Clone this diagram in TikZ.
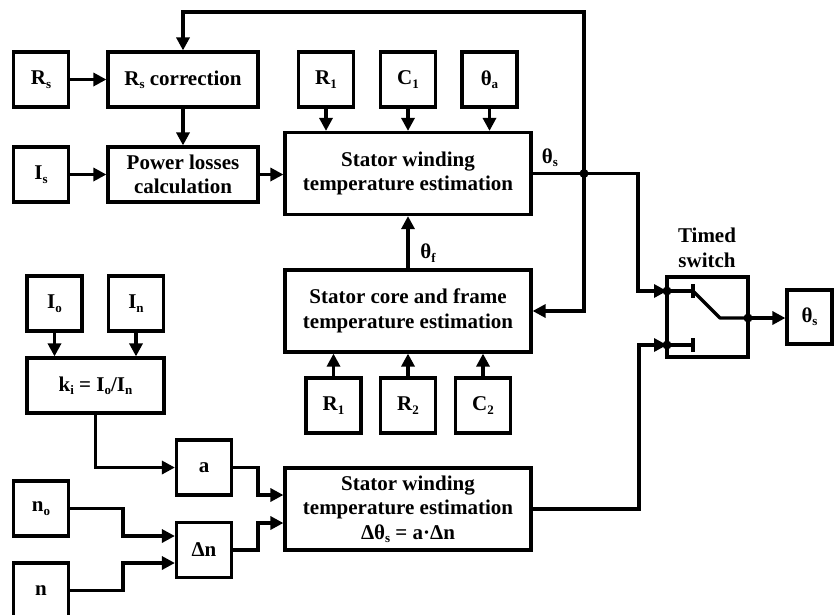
\documentclass[tikz,border=0pt]{standalone}
\usepackage{fontspec}
\setmainfont{Liberation Serif}
\usetikzlibrary{arrows.meta,calc}
\newcommand\sbs[1]{\raisebox{-0.35ex}{\fontsize{13}{13}\selectfont #1}}
\begin{document}
\begin{tikzpicture}[x=1pt,y=-1pt,
  box/.style={draw, line width=3.2pt, align=center, inner sep=0pt,
    font=\fontsize{21}{24.5}\selectfont\bfseries},
  sq/.style={box, minimum width=55pt, minimum height=55pt},
  big/.style={box, minimum width=246pt, minimum height=82pt},
  lab/.style={inner sep=0pt, font=\fontsize{21}{24.5}\selectfont\bfseries, align=center},
  arr/.style={line width=3.2pt, -{Triangle[length=13pt,width=13pt]}},
  ln/.style={line width=3.2pt}]
\useasboundingbox (0,0) rectangle (834,614);
% top-left
\node[sq] (Rs) at (41,79.5) {R\sbs{s}};
\node[box, minimum width=150pt, minimum height=55pt] (Rc) at (183,79.5) {R\sbs{s} correction};
\node[sq] (Is) at (41,174.5) {I\sbs{s}};
\node[box, minimum width=150pt, minimum height=55pt] (Pw) at (183,174.5) {Power losses\\calculation};
% stator winding
\node[sq] (R1a) at (326,79.5) {R\sbs{1}};
\node[sq] (C1) at (408,79.5) {C\sbs{1}};
\node[sq] (Ta) at (489.5,79.5) {θ\sbs{a}};
\node[big] (SW1) at (408,173.5) {Stator winding\\temperature estimation};
\node[big] (SC) at (408,311) {Stator core and frame\\temperature estimation};
\node[sq] (R1b) at (333.5,405.5) {R\sbs{1}};
\node[sq] (R2) at (408,405.5) {R\sbs{2}};
\node[sq] (C2) at (483,405.5) {C\sbs{2}};
\node[big] (SW2) at (408,509) {Stator winding\\temperature estimation\\Δθ\sbs{s} = a·Δn};
% lower-left
\node[sq] (Io) at (54.5,303.5) {I\sbs{o}};
\node[sq] (In) at (136,303.5) {I\sbs{n}};
\node[box, minimum width=137pt, minimum height=55pt] (ki) at (95.5,385.5) {k\sbs{i} = I\sbs{o}/I\sbs{n}};
\node[sq] (a) at (204,467.5) {a};
\node[sq] (no) at (41,508.5) {n\sbs{o}};
\node[sq] (dn) at (204,550) {Δn};
\node[sq] (n) at (41,590.5) {n};
% switch
\node[box, minimum width=81pt, minimum height=80pt] (Sw) at (707.5,317) {};
\node[lab] (Swl) at (707,248) {Timed\\switch};
\node[box, minimum width=45pt, minimum height=54pt] (Out) at (809.5,317) {θ\sbs{s}};
\node[lab] (Tsl) at (550,158) {θ\sbs{s}};
\node[lab] (Tfl) at (428,253) {θ\sbs{f}};
% coordinates
\coordinate (J) at (584,173.5);
\coordinate (T) at (584,12);
\coordinate (S1) at (638,173.5);
\coordinate (S2) at (639,509);
\coordinate (SWa) at (667,291);
\coordinate (SWb) at (667,345);
\coordinate (Ka) at (693,291);
\coordinate (Kb) at (693,345);
\coordinate (Kc) at (720,318);
\coordinate (SWo) at (748,318);
% connectors top-left
\draw[arr] (Rs) -- (Rc);
\draw[arr] (Is) -- (Pw);
\draw[arr] (Rc) -- (Pw);
\draw[arr] (Pw.east) -- (Pw.east -| SW1.west);
\draw[arr] (R1a) -- (R1a |- SW1.north);
\draw[arr] (C1) -- (C1 |- SW1.north);
\draw[arr] (Ta) -- (Ta |- SW1.north);
\draw[arr] (SC) -- (SW1);
\draw[arr] (R1b) -- (R1b |- SC.south);
\draw[arr] (R2) -- (R2 |- SC.south);
\draw[arr] (C2) -- (C2 |- SC.south);
% feedback and outputs
\draw[ln] (SW1.east) -- (J);
\draw[arr] (J) -- (S1) |- (SWa);
\draw[arr] (J) -- (T) -| (Rc.north);
\draw[arr] (J) |- (SC.east);
\draw[arr] (SW2.east) -- (S2) |- (SWb);
% lower-left connectors
\draw[arr] (Io) -- (Io |- ki.north);
\draw[arr] (In) -- (In |- ki.north);
\draw[arr] (ki.south) |- (a.west);
\draw[arr] (no.east) -- (123,508.5) |- ($(dn.west)+(0,-14)$);
\draw[arr] (n.east) -- (123,590.5) |- ($(dn.west)+(0,13)$);
\draw[arr] (a.east) -- (258,467.5) |- ($(SW2.west)+(0,-14)$);
\draw[arr] (dn.east) -- (258,550) |- ($(SW2.west)+(0,14)$);
% switch internals
\draw[ln] (SWa) -- (Ka);
\draw[ln] (SWb) -- (Kb);
\draw[ln] ($(Ka)+(0,-7)$) -- ($(Ka)+(0,7)$);
\draw[ln] ($(Kb)+(0,-7)$) -- ($(Kb)+(0,7)$);
\draw[ln, line join=round] (Ka) -- (Kc) -- (SWo);
\draw[arr] (SWo) -- (Out.west |- SWo);
% dots
\foreach \p in {J,SWa,SWb,SWo} \fill (\p) circle (4.5pt);
\end{tikzpicture}
\end{document}
